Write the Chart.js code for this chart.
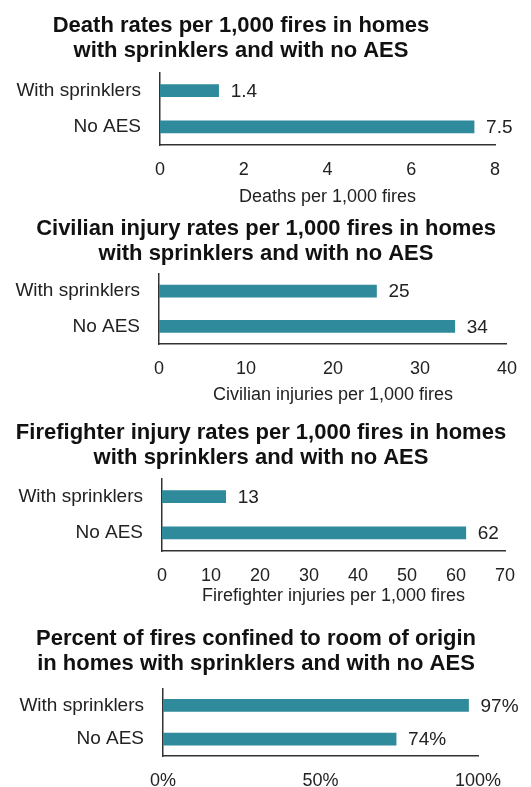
<!DOCTYPE html>
<html>
<head>
<meta charset="utf-8">
<script src="https://cdn.jsdelivr.net/npm/chart.js@4/dist/chart.umd.min.js"></script>
<style>
  html, body { margin: 0; padding: 0; background: #fff; }
  body { width: 531px; height: 787px; position: relative; overflow: hidden; }
  canvas { position: absolute; left: 0; }
</style>
</head>
<body>
<canvas id="death-chart" width="531" height="210" style="top:0px"></canvas>
<canvas id="civilian-chart" width="531" height="208" style="top:200px"></canvas>
<canvas id="firefighter-chart" width="531" height="208" style="top:400px"></canvas>
<canvas id="confined-chart" width="531" height="181" style="top:606px"></canvas>
<script>
// data
const categories = ['With sprinklers', 'No AES'];
const deathRates = [1.4, 7.5];
const civilianInjuryRates = [25, 34];
const firefighterInjuryRates = [13, 62];
const confinedPercent = [97, 74];

const chartTitles = [
  ['Death rates per 1,000 fires in homes', 'with sprinklers and with no AES'],
  ['Civilian injury rates per 1,000 fires in homes', 'with sprinklers and with no AES'],
  ['Firefighter injury rates per 1,000 fires in homes', 'with sprinklers and with no AES'],
  ['Percent of fires confined to room of origin', 'in homes with sprinklers and with no AES']
];
const axisTitles = ['Deaths per 1,000 fires', 'Civilian injuries per 1,000 fires', 'Firefighter injuries per 1,000 fires', ''];

const FONT = '"Liberation Sans", Arial, Helvetica, sans-serif';
const barColor = '#2f8a9c';

// the headings are not quite centred over the canvas, so draw them ourselves
const headTitle = {
  id: 'headTitle',
  afterDraw(chart, args, opts) {
    const ctx = chart.ctx;
    ctx.save();
    ctx.font = 'bold 22px ' + FONT;
    ctx.fillStyle = '#111';
    ctx.textAlign = 'center';
    ctx.textBaseline = 'middle';
    opts.text.forEach((line, i) => {
      ctx.fillText(line, opts.x, opts.y + i * 25.3);
    });
    ctx.restore();
  }
};

// draws the number at the end of each bar
const valueLabels = {
  id: 'valueLabels',
  afterDatasetsDraw(chart, args, opts) {
    const ctx = chart.ctx;
    const meta = chart.getDatasetMeta(0);
    const data = chart.data.datasets[0].data;
    ctx.save();
    ctx.font = '19px ' + FONT;
    ctx.fillStyle = '#222';
    ctx.textBaseline = 'middle';
    ctx.textAlign = 'left';
    meta.data.forEach((bar, i) => {
      ctx.fillText(opts.format(data[i]), bar.x + 12, bar.y + 1);
    });
    ctx.restore();
  }
};

function barChart(id, values, o) {
  const canvas = document.getElementById(id);
  return new Chart(canvas, {
    type: 'bar',
    data: {
      labels: categories,
      datasets: [{
        data: values,
        backgroundColor: barColor,
        barThickness: 12
      }]
    },
    plugins: [headTitle, valueLabels],
    options: {
      indexAxis: 'y',
      responsive: false,
      animation: false,
      layout: {
        padding: { left: 0, right: canvas.width - o.right, top: o.areaTop, bottom: 0 }
      },
      plugins: {
        legend: { display: false },
        tooltip: { enabled: false },
        title: { display: false },
        headTitle: { text: o.title, x: o.titleX, y: o.titleY },
        valueLabels: { format: o.format }
      },
      scales: {
        x: {
          min: 0,
          max: o.max,
          grid: { display: false, drawTicks: false },
          border: { display: true, color: '#333', width: 1.5 },
          ticks: {
            stepSize: o.step,
            padding: 14,
            color: '#222',
            font: { family: FONT, size: 18 },
            callback: o.tick
          },
          title: {
            display: o.axisTitle !== '',
            text: o.axisTitle,
            color: '#222',
            font: { family: FONT, size: 18 },
            padding: { top: 0, bottom: o.axisPad }
          },
          afterFit(scale) { scale.height = o.xHeight; }
        },
        y: {
          grid: { display: false, drawTicks: false },
          border: { display: true, color: '#333', width: 1.5 },
          ticks: {
            padding: 19,
            color: '#222',
            font: { family: FONT, size: 19 }
          },
          afterFit(scale) { scale.width = o.left; }
        }
      }
    }
  });
}

barChart('death-chart', deathRates, {
  title: chartTitles[0], axisTitle: axisTitles[0],
  max: 8, step: 2, left: 160, right: 495, areaTop: 72.6, xHeight: 65, axisPad: 2,
  titleX: 241, titleY: 25.6,
  format: v => v.toFixed(1), tick: v => v
});

barChart('civilian-chart', civilianInjuryRates, {
  title: chartTitles[1], axisTitle: axisTitles[1],
  max: 40, step: 10, left: 159, right: 508, areaTop: 73.6, xHeight: 64, axisPad: 2,
  titleX: 266, titleY: 28.6,
  format: v => String(v), tick: v => v
});

barChart('firefighter-chart', firefighterInjuryRates, {
  title: chartTitles[2], axisTitle: axisTitles[2],
  max: 70, step: 10, left: 162, right: 505, areaTop: 78.6, xHeight: 57, axisPad: 1,
  titleX: 261, titleY: 32.6,
  format: v => String(v), tick: v => v
});

barChart('confined-chart', confinedPercent, {
  title: chartTitles[3], axisTitle: axisTitles[3],
  max: 100, step: 50, left: 163, right: 478, areaTop: 82.6, xHeight: 31, axisPad: 0,
  titleX: 256, titleY: 32.6,
  format: v => v + '%', tick: v => v + '%'
});
</script>
</body>
</html>
